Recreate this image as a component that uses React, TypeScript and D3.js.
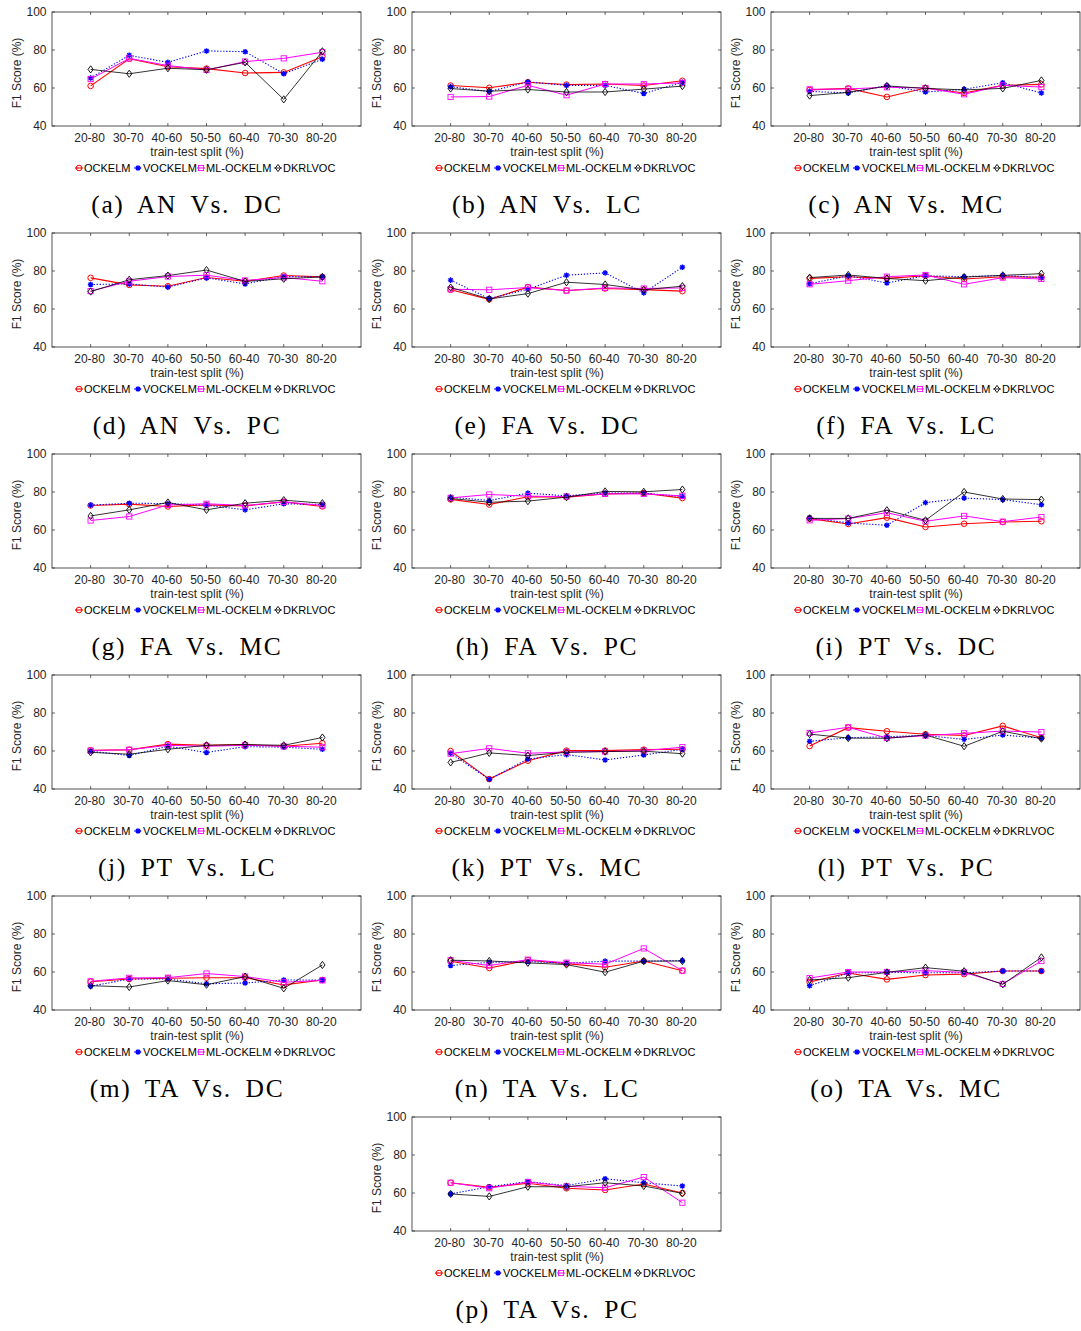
import React from "react";
import * as d3 from "d3";

const categories = ["20-80", "30-70", "40-60", "50-50", "60-40", "70-30", "80-20"];
const seriesNames = ["OCKELM", "VOCKELM", "ML-OCKELM", "DKRLVOC"];
const seriesColors = ["#ff0000", "#0000ff", "#ff00ff", "#000000"];
const yTicks = [40, 60, 80, 100];

// each panel: [OCKELM, VOCKELM, ML-OCKELM, DKRLVOC]
const anVsDc = [
  [61.1, 75.4, 71.2, 70.2, 67.9, 68.2, 76.5],
  [65.3, 77.2, 73.5, 79.5, 79.1, 67.5, 75.1],
  [64.7, 75.6, 71.8, 69.5, 73.9, 75.6, 78.8],
  [69.8, 67.5, 70.4, 69.6, 73.5, 54.0, 79.3],
];
const anVsLc = [
  [61.3, 60.1, 63.0, 61.8, 62.1, 61.3, 63.8],
  [60.7, 58.1, 63.2, 61.4, 61.4, 57.1, 63.0],
  [55.3, 55.5, 61.4, 56.2, 62.1, 62.1, 62.7],
  [59.7, 58.3, 59.2, 57.9, 57.9, 59.4, 61.0],
];
const anVsMc = [
  [59.0, 59.8, 55.3, 60.0, 57.4, 61.4, 61.9],
  [58.2, 57.4, 61.2, 57.9, 59.3, 62.8, 57.4],
  [59.3, 59.5, 60.4, 60.0, 56.7, 61.4, 60.5],
  [56.0, 57.7, 61.1, 59.8, 59.0, 59.8, 64.0],
];
const anVsPc = [
  [76.4, 72.7, 72.0, 76.6, 74.6, 77.6, 76.9],
  [72.9, 73.2, 71.5, 76.4, 73.2, 77.1, 76.8],
  [69.4, 74.6, 77.1, 77.8, 75.0, 76.6, 74.6],
  [69.2, 75.4, 77.6, 80.5, 74.5, 75.9, 76.9],
];
const faVsDc = [
  [70.1, 65.1, 71.5, 69.7, 70.8, 70.2, 69.4],
  [75.2, 65.5, 70.4, 77.8, 79.0, 68.5, 82.0],
  [70.4, 70.1, 71.3, 69.7, 71.1, 70.8, 71.1],
  [71.3, 65.3, 68.1, 74.1, 72.9, 70.1, 72.0],
];
const faVsLc = [
  [76.1, 77.0, 76.1, 77.5, 75.8, 77.0, 76.7],
  [73.3, 77.5, 73.7, 77.5, 77.0, 77.7, 76.5],
  [73.0, 74.9, 77.0, 77.9, 73.0, 76.5, 75.8],
  [76.5, 77.9, 76.1, 74.9, 76.8, 77.7, 78.6],
];
const faVsMc = [
  [72.9, 73.6, 72.4, 73.2, 72.7, 74.8, 72.4],
  [73.1, 74.1, 73.9, 73.1, 70.6, 73.8, 73.4],
  [65.0, 67.1, 73.2, 73.8, 72.9, 74.8, 72.9],
  [67.4, 70.6, 74.5, 70.6, 74.1, 75.7, 74.1],
];
const faVsPc = [
  [76.1, 73.4, 77.5, 77.3, 79.0, 79.4, 76.8],
  [77.3, 75.5, 79.4, 78.0, 79.4, 79.4, 77.6],
  [76.9, 78.7, 77.8, 77.6, 79.0, 79.0, 78.0],
  [76.6, 74.6, 75.2, 77.3, 80.3, 80.1, 81.3],
];
const ptVsDc = [
  [66.0, 63.2, 66.5, 61.6, 63.3, 64.2, 64.6],
  [66.5, 63.7, 62.5, 74.4, 76.8, 76.0, 73.3],
  [65.1, 66.0, 69.1, 64.6, 67.4, 64.4, 66.8],
  [66.1, 66.1, 70.4, 65.1, 80.0, 76.3, 76.0],
];
const ptVsLc = [
  [60.4, 60.6, 63.6, 63.0, 63.4, 62.5, 64.1],
  [59.9, 57.6, 62.5, 59.2, 62.3, 62.0, 60.9],
  [60.2, 60.7, 63.0, 62.5, 63.0, 62.5, 62.0],
  [59.3, 58.3, 60.9, 63.0, 63.4, 63.0, 67.1],
];
const ptVsMc = [
  [60.0, 45.2, 54.9, 60.2, 60.2, 60.7, 60.9],
  [58.8, 45.1, 55.8, 58.1, 55.3, 57.9, 60.9],
  [58.6, 61.4, 58.8, 59.5, 59.7, 60.2, 62.0],
  [54.0, 59.0, 57.6, 59.3, 59.7, 59.9, 58.6],
];
const ptVsPc = [
  [62.6, 72.3, 70.4, 68.8, 68.2, 73.2, 67.0],
  [65.1, 67.0, 67.5, 68.2, 66.1, 68.4, 66.8],
  [69.5, 72.5, 66.8, 68.1, 69.3, 70.5, 70.0],
  [68.9, 66.8, 66.7, 68.4, 62.5, 70.4, 66.5],
];
const taVsDc = [
  [54.9, 56.3, 56.7, 57.0, 57.0, 53.2, 55.8],
  [52.5, 56.3, 56.3, 53.8, 54.2, 55.8, 55.8],
  [55.1, 56.9, 57.0, 59.2, 57.6, 54.6, 55.6],
  [52.8, 52.1, 55.5, 53.3, 57.6, 51.4, 63.7],
];
const taVsLc = [
  [65.7, 62.1, 66.2, 64.4, 62.5, 65.8, 60.7],
  [63.4, 65.1, 65.5, 64.6, 65.7, 65.7, 66.0],
  [66.2, 63.4, 66.5, 64.9, 64.1, 72.4, 60.7],
  [66.2, 65.8, 64.8, 63.9, 59.9, 65.7, 65.8],
];
const taVsMc = [
  [54.7, 59.5, 56.1, 58.4, 58.9, 60.5, 60.5],
  [52.8, 59.5, 59.8, 59.6, 59.6, 60.5, 60.5],
  [56.8, 60.0, 60.0, 60.7, 59.8, 53.7, 65.8],
  [55.8, 57.0, 59.8, 62.3, 60.4, 53.5, 67.7],
];
const taVsPc = [
  [65.4, 63.0, 65.1, 62.5, 61.6, 64.7, 60.0],
  [59.5, 63.3, 66.0, 63.9, 67.5, 65.4, 63.7],
  [65.4, 62.5, 65.8, 63.5, 62.8, 68.4, 54.9],
  [59.5, 58.2, 63.3, 63.3, 65.4, 63.7, 59.8],
];

const captions = [
  "(a) AN Vs. DC", "(b) AN Vs. LC", "(c) AN Vs. MC",
  "(d) AN Vs. PC", "(e) FA Vs. DC", "(f) FA Vs. LC",
  "(g) FA Vs. MC", "(h) FA Vs. PC", "(i) PT Vs. DC",
  "(j) PT Vs. LC", "(k) PT Vs. MC", "(l) PT Vs. PC",
  "(m) TA Vs. DC", "(n) TA Vs. LC", "(o) TA Vs. MC",
  "(p) TA Vs. PC",
];
const panelData = [
  anVsDc, anVsLc, anVsMc, anVsPc, faVsDc, faVsLc, faVsMc, faVsPc,
  ptVsDc, ptVsLc, ptVsMc, ptVsPc, taVsDc, taVsLc, taVsMc, taVsPc,
];

const colX = [0, 360, 719];
const rowY = [0, 221, 442, 663, 884, 1105];
const AX = "#262626";
const SANS = "'Liberation Sans', Arial, Helvetica, sans-serif";
const SERIF = "'Liberation Serif', 'Times New Roman', serif";

function Marker({ kind, cx, cy, color }: { kind: number; cx: number; cy: number; color: string }) {
  if (kind === 0) return <circle cx={cx} cy={cy} r={2.8} fill="none" stroke={color} strokeWidth={1} />;
  if (kind === 1) {
    const s = 2.8, d = 2.0;
    return (
      <path
        d={`M${cx - s},${cy}L${cx + s},${cy}M${cx},${cy - s}L${cx},${cy + s}M${cx - d},${cy - d}L${cx + d},${cy + d}M${cx - d},${cy + d}L${cx + d},${cy - d}`}
        stroke={color}
        strokeWidth={1.3}
        fill="none"
      />
    );
  }
  if (kind === 2) return <rect x={cx - 2.6} y={cy - 2.6} width={5.2} height={5.2} fill="none" stroke={color} strokeWidth={0.9} />;
  return (
    <path
      d={`M${cx},${cy - 3.6}L${cx + 2.6},${cy}L${cx},${cy + 3.6}L${cx - 2.6},${cy}Z`}
      fill="none"
      stroke={color}
      strokeWidth={0.9}
    />
  );
}

const lineWidths = [1.1, 1.1, 1.0, 0.8];
const dashes = [undefined, "1.3,1.7", undefined, undefined];
const legendSymX = [79, 138, 201, 278];
const legendTextX = [84, 143, 206, 283];

function Panel({ ox, oy, data, caption }: { ox: number; oy: number; data: number[][]; caption: string }) {
  const x = d3.scaleLinear().domain([0, categories.length + 1]).range([52, 361]);
  const y = d3.scaleLinear().domain([40, 100]).range([126, 12]);
  const line = d3
    .line<number>()
    .x((_, i) => x(i + 1))
    .y((d) => y(d));
  const [x0, x1] = x.range();
  const [y0, y1] = y.range();
  const tl = 3;
  return (
    <g transform={`translate(${ox},${oy})`}>
      <rect x={x0} y={y1} width={x1 - x0} height={y0 - y1} fill="#fff" stroke={AX} strokeWidth={0.8} />
      {categories.map((c, i) => (
        <g key={c}>
          <line x1={x(i + 1)} x2={x(i + 1)} y1={y0} y2={y0 - tl} stroke={AX} strokeWidth={0.7} />
          <line x1={x(i + 1)} x2={x(i + 1)} y1={y1} y2={y1 + tl} stroke={AX} strokeWidth={0.7} />
          <text x={x(i + 1) - 1} y={142} textAnchor="middle" fontSize={12} fontFamily={SANS} fill={AX}>
            {c}
          </text>
        </g>
      ))}
      {yTicks.map((t) => (
        <g key={t}>
          <line x1={x0} x2={x0 + tl} y1={y(t)} y2={y(t)} stroke={AX} strokeWidth={0.7} />
          <line x1={x1} x2={x1 - tl} y1={y(t)} y2={y(t)} stroke={AX} strokeWidth={0.7} />
          <text x={46.5} y={y(t) + 4.3} textAnchor="end" fontSize={12} fontFamily={SANS} fill={AX}>
            {t}
          </text>
        </g>
      ))}
      <text
        transform={`translate(21,${(y0 + y1) / 2 + 4}) rotate(-90)`}
        textAnchor="middle"
        fontSize={12}
        fontFamily={SANS}
        fill={AX}
      >
        F1 Score (%)
      </text>
      <text x={197} y={156} textAnchor="middle" fontSize={12} fontFamily={SANS} fill={AX}>
        train-test split (%)
      </text>
      {data.map((vals, si) => (
        <g key={si}>
          <path
            d={line(vals) || ""}
            fill="none"
            stroke={seriesColors[si]}
            strokeWidth={lineWidths[si]}
            strokeDasharray={dashes[si]}
          />
          {vals.map((v, i) => (
            <Marker key={i} kind={si} cx={x(i + 1)} cy={y(v)} color={seriesColors[si]} />
          ))}
        </g>
      ))}
      {seriesNames.map((n, si) => (
        <g key={n}>
          <line
            x1={legendSymX[si] - 4}
            x2={legendSymX[si] + 4}
            y1={168}
            y2={168}
            stroke={seriesColors[si]}
            strokeWidth={lineWidths[si]}
            strokeDasharray={dashes[si]}
          />
          <Marker kind={si} cx={legendSymX[si]} cy={168} color={seriesColors[si]} />
          <text x={legendTextX[si]} y={172} fontSize={11} fontFamily={SANS} fill="#000">
            {n}
          </text>
        </g>
      ))}
      <text
        x={187}
        y={213}
        textAnchor="middle"
        fontSize={25.5}
        fontFamily={SERIF}
        letterSpacing={1.6}
        wordSpacing={6}
        fill="#000"
      >
        {caption}
      </text>
    </g>
  );
}

export default function App() {
  const positions = panelData.map((_, i) =>
    i < 15 ? { ox: colX[i % 3], oy: rowY[Math.floor(i / 3)] } : { ox: colX[1], oy: rowY[5] }
  );
  return (
    <svg
      width={1081}
      height={1331}
      style={{ position: "absolute", left: 0, top: 0, background: "#fff" }}
    >
      <rect x={0} y={0} width={1081} height={1331} fill="#fff" />
      {panelData.map((d, i) => (
        <Panel key={i} ox={positions[i].ox} oy={positions[i].oy} data={d} caption={captions[i]} />
      ))}
    </svg>
  );
}
